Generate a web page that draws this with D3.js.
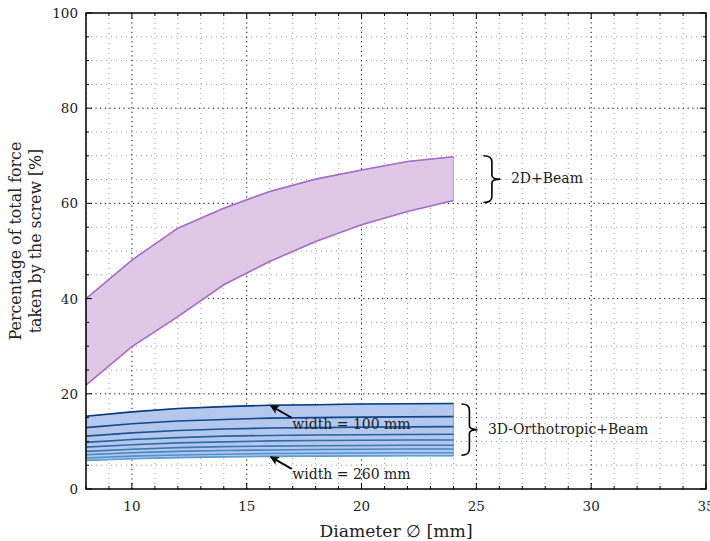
<!DOCTYPE html>
<html><head><meta charset="utf-8">
<script src="https://cdn.jsdelivr.net/npm/d3@7"></script>
<style>
html,body{margin:0;padding:0;background:#fff;overflow:hidden}
svg{display:block}
text{font-family:"DejaVu Serif","Liberation Serif",serif;fill:#222}
</style></head>
<body>
<svg id="c" width="710" height="541"></svg>
<script>
// ---- data ----
const diameters = [8, 10, 12, 14, 16, 18, 20, 22, 24];
const beam2DUpper = [40.0, 48.1, 54.8, 59.0, 62.5, 65.1, 67.0, 68.8, 69.8];
const beam2DLower = [21.8, 29.9, 36.2, 42.9, 47.8, 52.0, 55.5, 58.3, 60.6];
const widths = [100, 120, 140, 160, 180, 200, 220, 240, 260];
const w100 = [15.3, 16.2, 16.9, 17.3, 17.6, 17.7, 17.85, 17.9, 17.95];
const w120 = [12.9, 13.7, 14.3, 14.6, 14.9, 15.0, 15.1, 15.15, 15.2];
const w140 = [11.1, 11.8, 12.3, 12.6, 12.8, 12.9, 13.0, 13.05, 13.1];
const w160 = [9.8, 10.4, 10.8, 11.1, 11.25, 11.35, 11.4, 11.45, 11.5];
const w180 = [8.8, 9.3, 9.7, 9.9, 10.1, 10.2, 10.25, 10.3, 10.3];
const w200 = [7.9, 8.35, 8.7, 8.9, 9.0, 9.1, 9.15, 9.2, 9.2];
const w220 = [7.2, 7.6, 7.9, 8.1, 8.2, 8.3, 8.35, 8.4, 8.4];
const w240 = [6.5, 6.9, 7.15, 7.3, 7.45, 7.5, 7.55, 7.6, 7.6];
const w260 = [6.0, 6.35, 6.6, 6.75, 6.85, 6.9, 6.95, 7.0, 7.0];
const ortho3D = [w100, w120, w140, w160, w180, w200, w220, w240, w260];
const xMajorTicks = [10, 15, 20, 25, 30, 35];
const yMajorTicks = [0, 20, 40, 60, 80, 100];

// ---- layout ----
const L = 86, R = 706, T = 13, B = 489;
const svg = d3.select("#c");
const x = d3.scaleLinear().domain([8, 35]).range([L, R]);
const y = d3.scaleLinear().domain([0, 100]).range([B, T]);
const xMinor = d3.range(8, 36, 1);
const yMinor = d3.range(0, 101, 5);

// grid
const g = svg.append("g");
g.selectAll(".vmin").data(xMinor.filter(v => v % 5 !== 0)).join("line")
  .attr("x1", d => x(d)).attr("x2", d => x(d)).attr("y1", T).attr("y2", B)
  .attr("stroke", "#9a9a9a").attr("stroke-width", 1).attr("stroke-dasharray", "1,4");
g.selectAll(".hmin").data(yMinor.filter(v => v % 20 !== 0)).join("line")
  .attr("y1", d => y(d)).attr("y2", d => y(d)).attr("x1", L).attr("x2", R)
  .attr("stroke", "#9a9a9a").attr("stroke-width", 1).attr("stroke-dasharray", "1,4");
g.selectAll(".vmaj").data(xMajorTicks.filter(v => v < 35)).join("line")
  .attr("x1", d => x(d)).attr("x2", d => x(d)).attr("y1", T).attr("y2", B)
  .attr("stroke", "#000").attr("stroke-width", 1).attr("stroke-dasharray", "1.2,3.5");
g.selectAll(".hmaj").data(yMajorTicks.filter(v => v > 0 && v < 100)).join("line")
  .attr("y1", d => y(d)).attr("y2", d => y(d)).attr("x1", L).attr("x2", R)
  .attr("stroke", "#000").attr("stroke-width", 1).attr("stroke-dasharray", "1.2,3.5");

// 2D+Beam band
const pts2D = diameters.map((d, i) => ({d, u: beam2DUpper[i], l: beam2DLower[i]}));
svg.append("path").datum(pts2D)
  .attr("d", d3.area().x(p => x(p.d)).y0(p => y(p.l)).y1(p => y(p.u)))
  .attr("fill", "#dfc8e7").attr("stroke", "#b888d0").attr("stroke-width", 0.8);
[beam2DUpper, beam2DLower].forEach(arr => {
  svg.append("path").datum(arr)
    .attr("d", d3.line().x((v, i) => x(diameters[i])).y(v => y(v)))
    .attr("fill", "none").attr("stroke", "#a96cc6").attr("stroke-width", 1.6);
});

// 3D-Orthotropic+Beam band
const pts3D = diameters.map((d, i) => ({d, u: w100[i], l: w260[i]}));
svg.append("path").datum(pts3D)
  .attr("d", d3.area().x(p => x(p.d)).y0(p => y(p.l)).y1(p => y(p.u)))
  .attr("fill", "#b3c8ec").attr("stroke", "#6a9ad4").attr("stroke-width", 0.8);
const col = d3.scaleLinear().domain([100, 260]).range(["#0a3a7e", "#5a9fd8"]);
ortho3D.slice().reverse().forEach((arr, k) => {
  const w = widths[widths.length - 1 - k];
  svg.append("path").datum(arr)
    .attr("d", d3.line().x((v, i) => x(diameters[i])).y(v => y(v)))
    .attr("fill", "none").attr("stroke", col(w)).attr("stroke-width", 1.6);
});

// axes frame + ticks
const ax = svg.append("g");
function ticksH(yy, dir) {
  ax.selectAll(null).data(xMinor).join("line")
    .attr("x1", d => x(d)).attr("x2", d => x(d))
    .attr("y1", yy).attr("y2", d => yy + dir * (d % 5 === 0 ? 6 : 3))
    .attr("stroke", "#000").attr("stroke-width", 1);
}
function ticksV(xx, dir) {
  ax.selectAll(null).data(yMinor).join("line")
    .attr("y1", d => y(d)).attr("y2", d => y(d))
    .attr("x1", xx).attr("x2", d => xx + dir * (d % 20 === 0 ? 6 : 3))
    .attr("stroke", "#000").attr("stroke-width", 1);
}
ticksH(B, -1); ticksH(T, 1); ticksV(L, 1); ticksV(R, -1);
ax.append("rect").attr("x", L).attr("y", T).attr("width", R - L).attr("height", B - T)
  .attr("fill", "none").attr("stroke", "#000").attr("stroke-width", 1.5);

// tick labels
svg.selectAll(".xt").data(xMajorTicks).join("text")
  .attr("x", d => x(d)).attr("y", B + 22).attr("text-anchor", "middle")
  .attr("font-size", 13.5).text(d => d);
svg.selectAll(".yt").data(yMajorTicks).join("text")
  .attr("x", L - 8).attr("y", d => y(d) + 5).attr("text-anchor", "end")
  .attr("font-size", 13.5).text(d => d);

// axis titles
svg.append("text").attr("x", (L + R) / 2).attr("y", 536.5).attr("text-anchor", "middle")
  .attr("font-size", 17.2).text("Diameter \u2205 [mm]");
const yl = svg.append("text").attr("transform", "translate(0,241) rotate(-90)")
  .attr("text-anchor", "middle").attr("font-size", 15.8);
yl.append("tspan").attr("x", 0).attr("y", 21).text("Percentage of total force");
yl.append("tspan").attr("x", 0).attr("y", 41).text("taken by the screw [%]");

// arrows + annotations
const defs = svg.append("defs");
defs.append("marker").attr("id", "ah").attr("viewBox", "0 0 10 10").attr("refX", 9).attr("refY", 5)
  .attr("markerWidth", 5).attr("markerHeight", 5).attr("orient", "auto")
  .attr("markerUnits", "strokeWidth")
  .append("path").attr("d", "M0,0 L10,5 L0,10 L2.5,5 Z").attr("fill", "#000");
const i16 = diameters.indexOf(16);
[[w100, "width = 100 mm", 429], [w260, "width = 260 mm", 479]].forEach(([arr, label, by]) => {
  const hx = x(16), hy = y(arr[i16]);
  svg.append("line").attr("x1", hx + 22).attr("y1", hy + 12.5).attr("x2", hx + 1).attr("y2", hy + 0.5)
    .attr("stroke", "#000").attr("stroke-width", 1.8).attr("marker-end", "url(#ah)");
  svg.append("text").attr("x", hx + 22.5).attr("y", by).attr("font-size", 14).text(label);
});

// braces
function brace(bx, y0, y1, w) {
  const ym = (y0 + y1) / 2, mx = bx + w * 0.5, r = 6;
  return `M${bx},${y0} Q${mx},${y0} ${mx},${y0 + r} L${mx},${ym - 4} Q${mx},${ym} ${bx + w},${ym}` +
         ` Q${mx},${ym} ${mx},${ym + 4} L${mx},${y1 - r} Q${mx},${y1} ${bx},${y1}`;
}
const last = diameters.length - 1;
svg.append("path").attr("d", brace(x(24) + 30, y(beam2DUpper[last]) - 1, y(beam2DLower[last]) + 2, 17))
  .attr("fill", "none").attr("stroke", "#000").attr("stroke-width", 1.6);
svg.append("text").attr("x", x(24) + 57.5).attr("y", 183).attr("font-size", 14).text("2D+Beam");
svg.append("path").attr("d", brace(x(24) + 8, y(w100[last]) + 0.5, y(w260[last]) - 0.5, 16))
  .attr("fill", "none").attr("stroke", "#000").attr("stroke-width", 1.6);
svg.append("text").attr("x", x(24) + 34.5).attr("y", 434).attr("font-size", 14).text("3D-Orthotropic+Beam");
</script>
</body></html>
